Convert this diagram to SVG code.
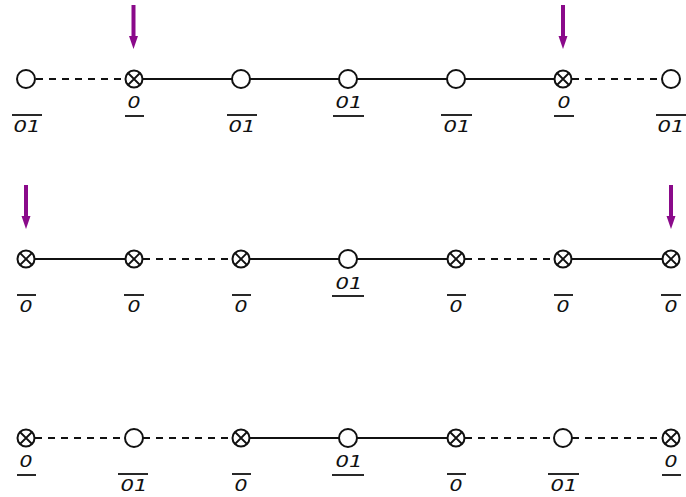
<svg xmlns="http://www.w3.org/2000/svg" xmlns:xlink="http://www.w3.org/1999/xlink" width="686" height="497" viewBox="0 0 686 497">
<style>
.n{fill:#fff;stroke:#111;stroke-width:2}
.x{stroke:#111;stroke-width:1.8}
.e{stroke:#111;stroke-width:1.8;fill:none}
.d{stroke-dasharray:7,6;stroke-width:2}
.bar{stroke:#111;stroke-width:1.8}
.t{font-family:"DejaVu Sans","Liberation Sans",sans-serif;font-style:italic;font-size:16px;fill:#111;text-anchor:middle}
.arr{stroke:#8a0a8a;stroke-width:4}
.ah{fill:#8a0a8a}
</style>
<defs>
<g id="pc"><circle class="n" r="9"/></g>
<g id="cc"><circle class="n" r="8.5"/><path class="x" d="M-6,-6L6,6M-6,6L6,-6"/></g>
<g id="ar"><line class="arr" x1="0" y1="5" x2="0" y2="38"/><path class="ah" d="M-4.5,36L4.5,36L0,49Z"/></g>
</defs>
<g id="connectors">
<!-- row 1 -->
<line class="e d" x1="36" y1="79" x2="126" y2="79"/>
<line class="e" x1="142" y1="79" x2="232" y2="79"/>
<line class="e" x1="250" y1="79" x2="339" y2="79"/>
<line class="e" x1="357" y1="79" x2="447" y2="79"/>
<line class="e" x1="465" y1="79" x2="555" y2="79"/>
<line class="e d" x1="572" y1="79" x2="662" y2="79"/>
<!-- row 2 -->
<line class="e" x1="34" y1="259" x2="126" y2="259"/>
<line class="e d" x1="143" y1="259" x2="233" y2="259"/>
<line class="e" x1="249" y1="259" x2="339" y2="259"/>
<line class="e" x1="357" y1="259" x2="448" y2="259"/>
<line class="e d" x1="465" y1="259" x2="555" y2="259"/>
<line class="e" x1="571" y1="259" x2="663" y2="259"/>
<!-- row 3 -->
<line class="e d" x1="35" y1="438" x2="125" y2="438"/>
<line class="e d" x1="143" y1="438" x2="233" y2="438"/>
<line class="e" x1="249" y1="438" x2="339" y2="438"/>
<line class="e" x1="357" y1="438" x2="448" y2="438"/>
<line class="e d" x1="465" y1="438" x2="554" y2="438"/>
<line class="e d" x1="572" y1="438" x2="662" y2="438"/>
</g>
<g id="arrows">
<use xlink:href="#ar" x="133.5" y="0"/>
<use xlink:href="#ar" x="563" y="0"/>
<use xlink:href="#ar" x="26" y="180"/>
<use xlink:href="#ar" x="671" y="180"/>
</g>
<!-- row 1 -->
<g id="r1n1"><use xlink:href="#pc" x="26" y="79"/><line class="bar" x1="12" y1="115" x2="42" y2="115"/><text class="t" x="27" y="132" textLength="27" lengthAdjust="spacingAndGlyphs">01</text></g>
<g id="r1n2"><use xlink:href="#cc" x="134" y="79"/><text class="t" x="134" y="108" textLength="13" lengthAdjust="spacingAndGlyphs">0</text><line class="bar" x1="125" y1="116" x2="144" y2="116"/></g>
<g id="r1n3"><use xlink:href="#pc" x="241" y="79"/><line class="bar" x1="227" y1="115" x2="257" y2="115"/><text class="t" x="242" y="132" textLength="27" lengthAdjust="spacingAndGlyphs">01</text></g>
<g id="r1n4"><use xlink:href="#pc" x="348" y="79"/><text class="t" x="349" y="108" textLength="27" lengthAdjust="spacingAndGlyphs">01</text><line class="bar" x1="333" y1="116" x2="364" y2="116"/></g>
<g id="r1n5"><use xlink:href="#pc" x="456" y="79"/><line class="bar" x1="441" y1="115" x2="472" y2="115"/><text class="t" x="457" y="132" textLength="27" lengthAdjust="spacingAndGlyphs">01</text></g>
<g id="r1n6"><use xlink:href="#cc" x="563" y="79"/><text class="t" x="564" y="108" textLength="13" lengthAdjust="spacingAndGlyphs">0</text><line class="bar" x1="554" y1="116" x2="574" y2="116"/></g>
<g id="r1n7"><use xlink:href="#pc" x="671" y="79"/><line class="bar" x1="656" y1="115" x2="686" y2="115"/><text class="t" x="671" y="132" textLength="27" lengthAdjust="spacingAndGlyphs">01</text></g>
<!-- row 2 -->
<g id="r2n1"><use xlink:href="#cc" x="26" y="259"/><line class="bar" x1="17" y1="295" x2="36" y2="295"/><text class="t" x="26" y="312" textLength="13" lengthAdjust="spacingAndGlyphs">0</text></g>
<g id="r2n2"><use xlink:href="#cc" x="134" y="259"/><line class="bar" x1="124" y1="295" x2="144" y2="295"/><text class="t" x="134" y="312" textLength="13" lengthAdjust="spacingAndGlyphs">0</text></g>
<g id="r2n3"><use xlink:href="#cc" x="241" y="259"/><line class="bar" x1="232" y1="295" x2="251" y2="295"/><text class="t" x="241" y="312" textLength="13" lengthAdjust="spacingAndGlyphs">0</text></g>
<g id="r2n4"><use xlink:href="#pc" x="348" y="259"/><text class="t" x="349" y="289" textLength="27" lengthAdjust="spacingAndGlyphs">01</text><line class="bar" x1="332" y1="296" x2="364" y2="296"/></g>
<g id="r2n5"><use xlink:href="#cc" x="456" y="259"/><line class="bar" x1="447" y1="295" x2="466" y2="295"/><text class="t" x="456" y="312" textLength="13" lengthAdjust="spacingAndGlyphs">0</text></g>
<g id="r2n6"><use xlink:href="#cc" x="563" y="259"/><line class="bar" x1="554" y1="295" x2="573" y2="295"/><text class="t" x="563" y="312" textLength="13" lengthAdjust="spacingAndGlyphs">0</text></g>
<g id="r2n7"><use xlink:href="#cc" x="671" y="259"/><line class="bar" x1="661" y1="295" x2="681" y2="295"/><text class="t" x="671" y="312" textLength="13" lengthAdjust="spacingAndGlyphs">0</text></g>
<!-- row 3 -->
<g id="r3n1"><use xlink:href="#cc" x="26" y="438"/><text class="t" x="26" y="467" textLength="13" lengthAdjust="spacingAndGlyphs">0</text><line class="bar" x1="17" y1="475" x2="36" y2="475"/></g>
<g id="r3n2"><use xlink:href="#pc" x="134" y="438"/><line class="bar" x1="118" y1="474" x2="148" y2="474"/><text class="t" x="134" y="491" textLength="27" lengthAdjust="spacingAndGlyphs">01</text></g>
<g id="r3n3"><use xlink:href="#cc" x="241" y="438"/><line class="bar" x1="232" y1="474" x2="251" y2="474"/><text class="t" x="241" y="491" textLength="13" lengthAdjust="spacingAndGlyphs">0</text></g>
<g id="r3n4"><use xlink:href="#pc" x="348" y="438"/><text class="t" x="349" y="467" textLength="27" lengthAdjust="spacingAndGlyphs">01</text><line class="bar" x1="332" y1="475" x2="364" y2="475"/></g>
<g id="r3n5"><use xlink:href="#cc" x="456" y="438"/><line class="bar" x1="447" y1="474" x2="466" y2="474"/><text class="t" x="456" y="491" textLength="13" lengthAdjust="spacingAndGlyphs">0</text></g>
<g id="r3n6"><use xlink:href="#pc" x="563" y="438"/><line class="bar" x1="548" y1="474" x2="579" y2="474"/><text class="t" x="564" y="491" textLength="27" lengthAdjust="spacingAndGlyphs">01</text></g>
<g id="r3n7"><use xlink:href="#cc" x="671" y="438"/><text class="t" x="671" y="467" textLength="13" lengthAdjust="spacingAndGlyphs">0</text><line class="bar" x1="662" y1="475" x2="681" y2="475"/></g>
</svg>
